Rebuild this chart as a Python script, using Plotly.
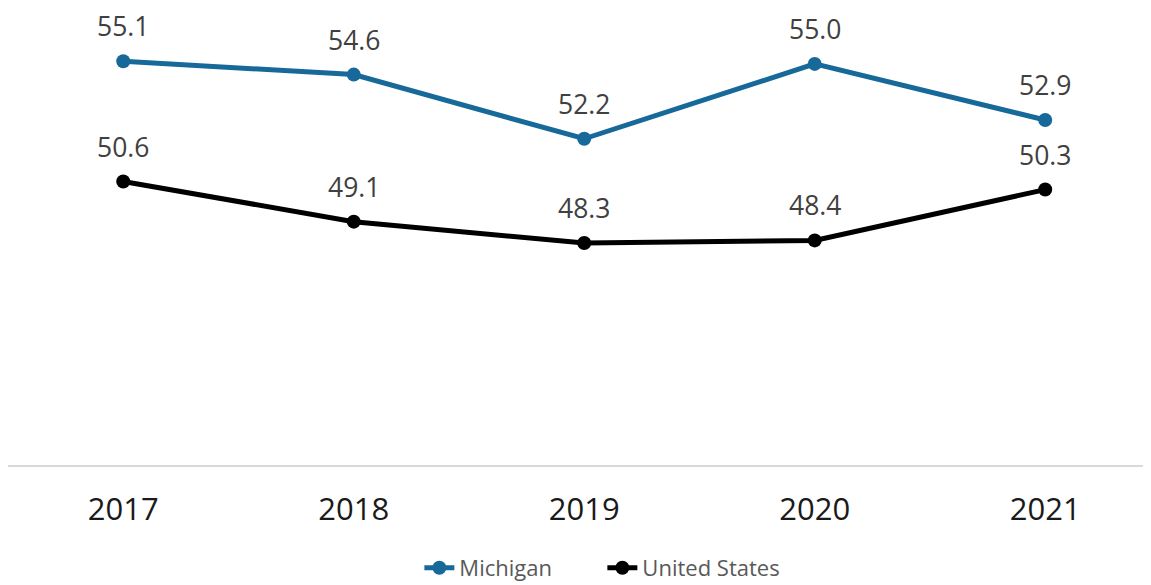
import plotly.graph_objects as go

years = ["2017", "2018", "2019", "2020", "2021"]
michigan = [55.1, 54.6, 52.2, 55.0, 52.9]
united_states = [50.6, 49.1, 48.3, 48.4, 50.3]

xs = list(range(len(years)))
BLUE = "#17699A"
BLACK = "#000000"
TXT = "#404040"

fig = go.Figure()
for name, vals, col in [("Michigan", michigan, BLUE), ("United States", united_states, BLACK)]:
    fig.add_trace(go.Scatter(
        x=xs, y=vals, name=name, mode="lines+markers",
        line=dict(color=col, width=5), marker=dict(color=col, size=14),
    ))
    for xi, v in zip(xs, vals):
        fig.add_annotation(x=xi, y=v, text=f"{v:.1f}", showarrow=False,
                           yshift=35, borderpad=0,
                           font=dict(size=26.5, color=TXT, family="Open Sans"))

fig.update_layout(
    width=1143, height=577,
    margin=dict(l=0, r=0, t=0, b=120, autoexpand=False),
    paper_bgcolor="white", plot_bgcolor="white",
    font=dict(family="Open Sans", color=TXT),
    xaxis=dict(range=[-0.5, 4.459], tickvals=xs, ticktext=years,
               showgrid=False, zeroline=False, showline=True,
               linecolor="#d9d9d9", linewidth=2,
               tickfont=dict(size=31, color="#1a1a1a"), ticks="", ticklen=0,
               ticklabelstandoff=16, automargin=False),
    yaxis=dict(range=[40, 57.09], visible=False, showgrid=False),
    showlegend=True,
    legend=dict(orientation="h", x=0.520, xanchor="center", y=-0.2254,
                yanchor="middle", font=dict(size=22, color="#595959"),
                entrywidth=138, entrywidthmode="pixels", tracegroupgap=0),
)

fig.write_html("out.html")
